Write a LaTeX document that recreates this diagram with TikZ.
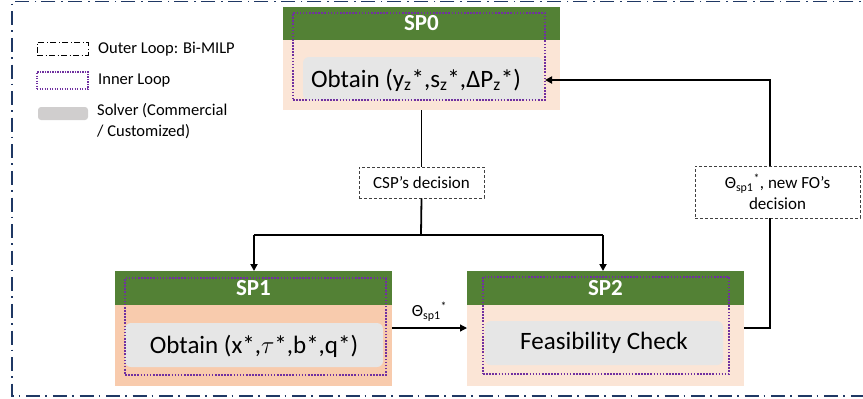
\documentclass[tikz,border=0pt]{standalone}
\usepackage{fontspec}
\setmainfont{Carlito}
\usetikzlibrary{fit,arrows.meta}
\definecolor{hdrgreen}{HTML}{538135}
\definecolor{peachlight}{HTML}{FBE5D6}
\definecolor{peachdark}{HTML}{F8CBAD}
\definecolor{solvergrey}{HTML}{E6E6E6}
\definecolor{legendgrey}{HTML}{D0CECE}
\definecolor{loopviolet}{HTML}{7030A0}
\definecolor{framenavy}{HTML}{1F3864}
\tikzset{
  box/.style={inner sep=0pt, outer sep=0pt},
  header/.style={box, fill=hdrgreen},
  title/.style={text=white, font=\fontsize{23}{26}\selectfont\bfseries, inner sep=0pt},
  body/.style={box, fill=#1},
  solver/.style={box, fill=solvergrey, rounded corners=6pt},
  innerloop/.style={box, draw=loopviolet, line width=1.6pt, dash pattern=on 1.6pt off 1.5pt},
  outerloop/.style={draw=framenavy, line width=1.8pt, dash pattern=on 14pt off 5pt on 1.6pt off 6pt},
  maintext/.style={font=\fontsize{25}{28}\selectfont, inner sep=0pt},
  tag/.style={draw=black!75, dashed, dash pattern=on 3pt off 2pt, line width=0.9pt, fill=white, inner sep=0pt},
  tagtext/.style={font=\fontsize{17}{21}\selectfont, align=center, inner sep=0pt},
  legtext/.style={font=\fontsize{16.5}{21}\selectfont, anchor=west, inner sep=0pt, align=left},
  conn/.style={line width=1.8pt, draw=black},
  arr/.style={conn, -{Triangle[length=7pt,width=7pt]}},
}
\begin{document}
\begin{tikzpicture}[x=1pt, y=-1pt]
\useasboundingbox (0,0) rectangle (863,399);

% outer loop frame (continues past the right edge)
\draw[outerloop] (880,1.5) -- (12,1.5) -- (12,396) -- (880,396);

% legend
\node[box, draw=black, line width=1pt, dash pattern=on 6pt off 2.5pt on 1pt off 2.5pt,
      fit={(37,42) (88,55)}] (legouter) {};
\node[legtext] (legoutertext) at (98,49) {Outer Loop: Bi-MILP};
\node[innerloop, line width=1.2pt, dash pattern=on 1.2pt off 1.3pt, fit={(37,72) (88,89)}] (leginner) {};
\node[legtext] (leginnertext) at (98,81) {Inner Loop};
\node[box, fill=legendgrey, rounded corners=3pt, fit={(38,107) (88,120)}] (legsolver) {};
\node[legtext, anchor=north west] (legsolvertext) at (97,103) {Solver (Commercial\\/ Customized)};

% SP0
\node[header, fit={(283,7) (560,40)}] (sp0h) {};
\node[title] (sp0title) at (sp0h.center) {SP0};
\node[body=peachlight, fit={(283,40) (560,110)}] (sp0b) {};
\node[solver, fit={(303,57) (543,100)}] (sp0s) {};
\node[innerloop, fit={(293,13) (545,100)}] (sp0l) {};
\node[maintext] (sp0t) at (416,80) {Obtain (y\textsubscript{z}*,s\textsubscript{z}*,ΔP\textsubscript{z}*)};

% SP1
\node[header, fit={(115,271) (392,305)}] (sp1h) {};
\node[title] (sp1title) at (sp1h.center) {SP1};
\node[body=peachdark, fit={(115,305) (392,386)}] (sp1b) {};
\node[solver, fit={(125,323) (383,367)}] (sp1s) {};
\node[innerloop, fit={(125,278) (386,375)}] (sp1l) {};
\node[maintext] (sp1t) at (254,346) {Obtain (x*,$\tau$*,b*,q*)};

% SP2
\node[header, fit={(467,271) (744,305)}] (sp2h) {};
\node[title] (sp2title) at (sp2h.center) {SP2};
\node[body=peachlight, fit={(467,305) (744,386)}] (sp2b) {};
\node[solver, fit={(485,321) (723,365)}] (sp2s) {};
\node[innerloop, fit={(483,277) (729,374)}] (sp2l) {};
\node[maintext] (sp2t) at (604,343) {Feasibility Check};

% decision tags
\node[tag, fit={(359,167) (484,198)}] (csp) {};
\node[tagtext] (csptext) at (csp.center) {CSP’s decision};
\node[tag, fit={(695,166) (860,218)}] (fo) {};
\node[tagtext] (fotext) at (fo.center) {Θ\textsubscript{sp1}\textsuperscript{*}, new FO’s\\decision};

% connectors
\coordinate (split) at (421,235);
\coordinate (toleft) at (254,235);
\coordinate (toright) at (603,235);
\coordinate (backturn) at (770,328);
\coordinate (backtop) at (770,80);
\draw[conn] (sp0b.south -| csp.north) -- (csp.north);
\draw[conn] (csp.south) -- (split);
\draw[conn] (toleft) -- (toright);
\draw[arr] (toleft) -- (toleft |- sp1h.north);
\draw[arr] (toright) -- (toright |- sp2h.north);
\draw[arr, line width=1.2pt] (sp1b.east |- backturn) -- node[above=6pt, tagtext] (thetalabel)
  {Θ\textsubscript{sp1}\textsuperscript{*}} (sp2b.west |- backturn);
\draw[conn] (sp2b.east |- backturn) -- (backturn) -- (backturn |- fo.south);
\draw[arr] (fo.north -| backtop) -- (backtop) -- (sp0l.east |- backtop);
\end{tikzpicture}
\end{document}
